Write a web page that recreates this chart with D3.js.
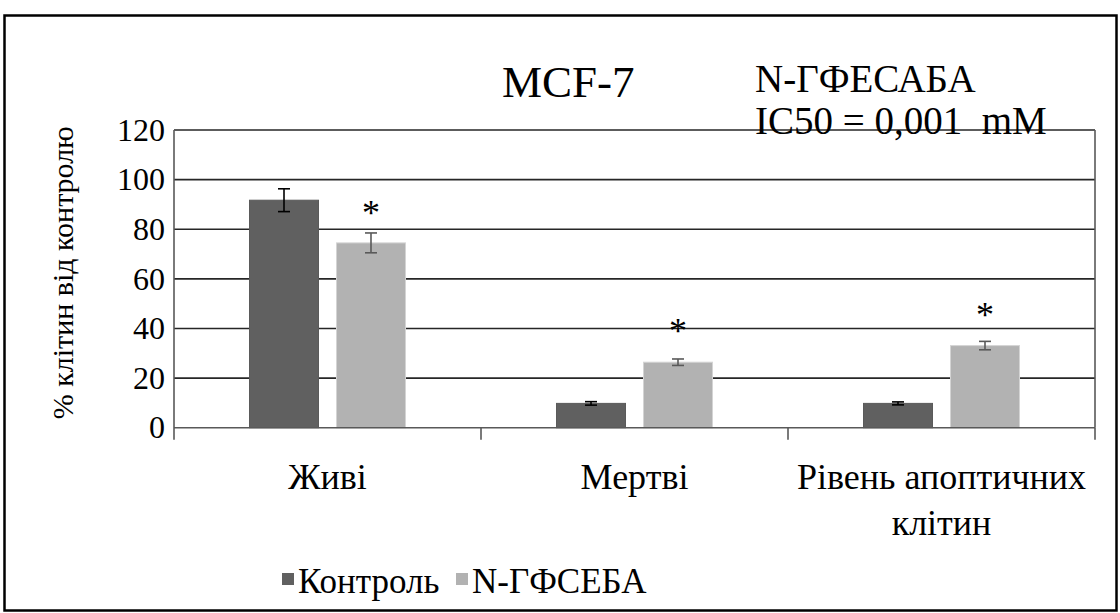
<!DOCTYPE html>
<html>
<head>
<meta charset="utf-8">
<script src="https://cdn.jsdelivr.net/npm/d3@7"></script>
<style>
  body { margin: 0; background: #fff; }
  text { font-family: "Liberation Serif" !important; }
</style>
</head>
<body>
<svg width="1120" height="613" font-family="Liberation Serif"></svg>
<script>
// data
var categories = [["Живі"], ["Мертві"], ["Рівень апоптичних", "клітин"]];
var seriesNames = ["Контроль", "N-ГФСЕБА"];
var controlValues = [91.7, 9.8, 9.8];
var controlErrors = [4.6, 0.7, 0.6];
var drugValues = [74.5, 26.4, 33.1];
var drugErrors = [4.0, 1.3, 1.7];
var starLevels = [89.1, 41.4, 47.9];   // where the * marks sit, in % units
var yTicks = [0, 20, 40, 60, 80, 100, 120];

var colors = ["#606060", "#b2b2b2"];
var errColors = ["#000", "#595959"];

var svg = d3.select("svg");

svg.append("rect")
    .attr("x", 4.5).attr("y", 15.5)
    .attr("width", 1112).attr("height", 595)
    .attr("fill", "#fff")
    .attr("stroke", "#000").attr("stroke-width", 2.5);

var plotL = 174, plotR = 1095, plotT = 130, plotB = 427.7;

var catKeys = categories.map(function (c) { return c.join(" "); });

var x0 = d3.scaleBand().domain(catKeys).range([plotL, plotR]);
var x1 = d3.scaleBand().domain(seriesNames)
    .range([0, x0.bandwidth()])
    .paddingInner(0.207).paddingOuter(0.868);
var y = d3.scaleLinear().domain([0, 120]).range([plotB, plotT]);

function label(sel, size) {
    return sel.attr("font-family", "Liberation Serif").attr("font-size", size).attr("fill", "#000");
}

// gridlines
svg.append("g").selectAll("line")
    .data(yTicks.filter(function (d) { return d > 0; }))
    .enter().append("line")
    .attr("x1", plotL).attr("x2", plotR)
    .attr("y1", function (d) { return y(d); })
    .attr("y2", function (d) { return y(d); })
    .attr("stroke", "#262626").attr("stroke-width", 1.6);

// right edge of plot area
svg.append("line")
    .attr("x1", plotR).attr("x2", plotR)
    .attr("y1", plotT).attr("y2", plotB)
    .attr("stroke", "#595959").attr("stroke-width", 1.6);

// y axis labels
var yAxis = svg.append("g")
    .attr("transform", "translate(" + plotL + ",0)")
    .call(d3.axisLeft(y).tickValues(yTicks).tickSize(0).tickPadding(9));
yAxis.select(".domain").remove();
yAxis.attr("font-family", "Liberation Serif").attr("font-size", 32);
label(yAxis.selectAll("text"), 32);

// bars
var rows = catKeys.map(function (k, i) {
    return [
        { cat: k, s: seriesNames[0], v: controlValues[i], e: controlErrors[i], k: 0 },
        { cat: k, s: seriesNames[1], v: drugValues[i], e: drugErrors[i], k: 1 }
    ];
});

var groups = svg.append("g").selectAll("g")
    .data(rows)
    .enter().append("g")
    .attr("transform", function (d) { return "translate(" + x0(d[0].cat) + ",0)"; });

groups.selectAll("rect")
    .data(function (d) { return d; })
    .enter().append("rect")
    .attr("x", function (d) { return x1(d.s); })
    .attr("y", function (d) { return y(d.v); })
    .attr("width", x1.bandwidth())
    .attr("height", function (d) { return y(0) - y(d.v); })
    .attr("fill", function (d) { return colors[d.k]; })
    .attr("stroke", function (d) { return d.k == 1 ? "#d4d4d4" : "#5a5a5a"; })
    .attr("stroke-width", 1);

// error bars
var eb = groups.selectAll(".err")
    .data(function (d) { return d; })
    .enter().append("g")
    .attr("class", "err")
    .attr("stroke", function (d) { return errColors[d.k]; })
    .attr("stroke-width", 1.6);
eb.append("line")
    .attr("x1", function (d) { return x1(d.s) + x1.bandwidth() / 2; })
    .attr("x2", function (d) { return x1(d.s) + x1.bandwidth() / 2; })
    .attr("y1", function (d) { return y(d.v + d.e); })
    .attr("y2", function (d) { return y(d.v - d.e); });
[1, -1].forEach(function (sign) {
    eb.append("line")
        .attr("x1", function (d) { return x1(d.s) + x1.bandwidth() / 2 - 6; })
        .attr("x2", function (d) { return x1(d.s) + x1.bandwidth() / 2 + 6; })
        .attr("y1", function (d) { return y(d.v + sign * d.e); })
        .attr("y2", function (d) { return y(d.v + sign * d.e); });
});

// significance marks
label(svg.append("g").selectAll("text")
    .data(starLevels)
    .enter().append("text")
    .attr("x", function (d, i) { return x0(catKeys[i]) + x1(seriesNames[1]) + x1.bandwidth() / 2; })
    .attr("y", function (d) { return y(d) + 18; })
    .attr("text-anchor", "middle"), 36)
    .text("*");

// x axis line and category ticks
svg.append("line")
    .attr("x1", plotL).attr("x2", plotR)
    .attr("y1", plotB).attr("y2", plotB)
    .attr("stroke", "#595959").attr("stroke-width", 1.6);
svg.append("line")
    .attr("x1", plotL).attr("x2", plotL)
    .attr("y1", plotT).attr("y2", plotB + 12)
    .attr("stroke", "#595959").attr("stroke-width", 1.6);
svg.append("g").selectAll("line")
    .data(catKeys)
    .enter().append("line")
    .attr("x1", function (d) { return x0(d) + x0.bandwidth(); })
    .attr("x2", function (d) { return x0(d) + x0.bandwidth(); })
    .attr("y1", plotB).attr("y2", plotB + 12)
    .attr("stroke", "#595959").attr("stroke-width", 1.6);

// category labels
var cl = label(svg.append("g").selectAll("text")
    .data(categories)
    .enter().append("text")
    .attr("text-anchor", "middle")
    .attr("transform", function (d, i) {
        return "translate(" + (x0(catKeys[i]) + x0.bandwidth() / 2) + ",489)";
    }), 36);
cl.selectAll("tspan")
    .data(function (d) { return d; })
    .enter().append("tspan")
    .attr("x", 0)
    .attr("dy", function (d, i) { return i == 0 ? 0 : 46; })
    .text(function (d) { return d; });

// y axis title
label(svg.append("text")
    .attr("transform", "translate(73," + (y(60) - 6) + ") rotate(-90)")
    .attr("text-anchor", "middle"), 30)
    .text("% клітин від контролю");

// titles
label(svg.append("text").attr("x", 502).attr("y", 97), 45).text("MCF-7");
label(svg.append("text").attr("x", 755).attr("y", 92), 39).text("N-ГФЕСАБА");
label(svg.append("text").attr("x", 755).attr("y", 134), 39).text("IC50 = 0,001 \u00a0mM");

// legend
var legX = [282, 456];
var leg = svg.append("g").selectAll("g")
    .data(seriesNames)
    .enter().append("g")
    .attr("transform", function (d, i) { return "translate(" + legX[i] + ",573)"; });
leg.append("rect")
    .attr("width", 12).attr("height", 12)
    .attr("fill", function (d, i) { return colors[i]; });
label(leg.append("text")
    .attr("x", 16).attr("y", 20), 35)
    .text(function (d) { return d; });
</script>
</body>
</html>
